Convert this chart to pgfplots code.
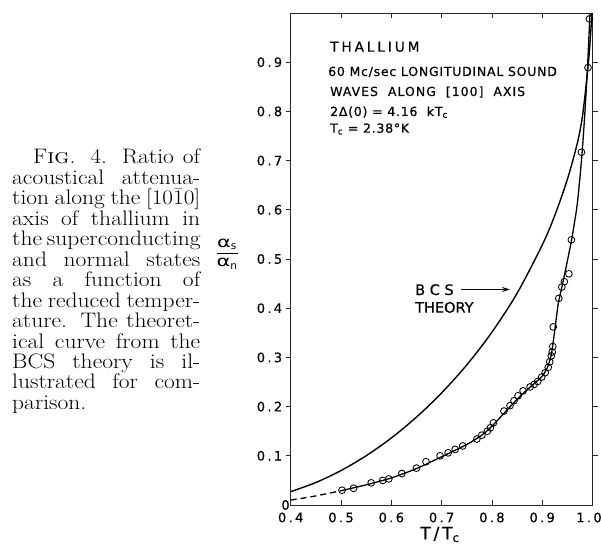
\documentclass[border=0pt]{standalone}
\usepackage{pgfplots}
\pgfplotsset{compat=1.18}
\usepackage{fontspec}
\usepackage{amsmath}
\usepackage{graphicx}
\usetikzlibrary{arrows.meta}
\newfontfamily\lfont{DejaVu Sans}
\newcommand\capline[2]{\scalebox{1.12}[1]{\makebox[#1][s]{#2}}}

\begin{document}
\begin{tikzpicture}[x=1pt,y=1pt]
\useasboundingbox (0,0) rectangle (601,552);
\begin{axis}[
  at={(290.7pt,47pt)}, anchor=south west,
  scale only axis, width=301.8pt, height=492pt,
  xmin=0.4, xmax=1.0, ymin=0, ymax=1.0,
  xtick={0.4,0.5,0.6,0.7,0.8,0.9,1.0},
  xticklabels={0.4,0.5,0.6,0.7,0.8,0.9,{\hspace*{-7pt}1.0}},
  ytick={0.1,0.2,0.3,0.4,0.5,0.6,0.7,0.8,0.9},
  yticklabels={0.1,0.2,0.3,0.4,0.5,0.6,0.7,0.8,0.9},
  extra y ticks={0}, extra y tick labels={0},
  extra y tick style={major tick length=0pt, yticklabel style={xshift=2.5pt, yshift=0pt}},
  xtick align=inside, ytick align=outside,
  major tick length=5pt,
  axis line style={line width=0.9pt, black!85},
  tick style={line width=0.8pt, black!85},
  ticklabel style={font={\fontsize{13}{15}\lfont\addfontfeature{LetterSpace=18,FakeBold=0.6}}},
  xticklabel style={yshift=-4pt},
]
% BCS theory
\addplot[black, line width=1.4pt, smooth, tension=0.5] coordinates {
(0.40,0.0271)(0.45,0.0457)(0.50,0.0700)(0.55,0.1001)(0.60,0.1362)(0.65,0.1786)
(0.70,0.2278)(0.75,0.2847)(0.80,0.3512)(0.85,0.4302)(0.90,0.5283)(0.925,0.5886)
(0.95,0.6618)(0.97,0.736)(0.98,0.790)(0.988,0.860)(0.994,0.925)(0.999,1.0)};
% experimental curve, dashed extrapolation
\addplot[black, line width=1.3pt, dash pattern=on 6pt off 4pt, smooth] coordinates {
(0.40,0.010)(0.45,0.0185)(0.50,0.029)};
% experimental curve, solid
\addplot[black, line width=1.3pt, smooth, tension=0.4] coordinates {
(0.50,0.029)(0.55,0.041)(0.60,0.055)(0.65,0.074)(0.70,0.098)(0.75,0.123)(0.78,0.142)
(0.80,0.160)(0.83,0.193)(0.86,0.225)(0.88,0.243)(0.90,0.262)(0.91,0.279)(0.918,0.305)
(0.925,0.355)(0.932,0.410)(0.940,0.447)(0.949,0.491)(0.959,0.542)(0.969,0.606)
(0.975,0.665)(0.980,0.725)(0.985,0.800)(0.990,0.889)(0.995,1.0)};
% measured points
\addplot[only marks, mark=o, mark size=3.4pt, mark options={line width=0.85pt, fill=white, draw=black}] coordinates {
(0.502,0.030)(0.525,0.034)(0.560,0.045)(0.583,0.050)(0.595,0.053)(0.621,0.064)
(0.650,0.075)(0.669,0.088)(0.697,0.100)(0.713,0.106)(0.727,0.113)(0.742,0.120)
(0.770,0.134)(0.780,0.142)(0.791,0.150)(0.797,0.157)(0.803,0.167)(0.824,0.191)
(0.836,0.202)(0.844,0.212)(0.852,0.222)(0.862,0.232)(0.876,0.240)(0.884,0.245)
(0.891,0.251)(0.899,0.260)(0.906,0.269)(0.912,0.280)(0.915,0.291)(0.918,0.303)
(0.920,0.311)(0.921,0.322)(0.922,0.362)(0.933,0.420)(0.939,0.443)(0.944,0.454)
(0.953,0.470)(0.958,0.539)(0.978,0.717)(0.991,0.889)(0.994,0.988)};
\end{axis}

% texts inside the plot
\node[anchor=base west, inner sep=0, font={\fontsize{13.7}{16}\lfont\addfontfeature{LetterSpace=21,FakeBold=0.5}}] at (330,500.3) {THALLIUM};
\node[anchor=base west, inner sep=0, font={\fontsize{12.5}{15}\lfont\addfontfeature{LetterSpace=6,FakeBold=0.5}}] at (328,476) {60 Mc/sec LONGITUDINAL SOUND};
\node[anchor=base west, inner sep=0, font={\fontsize{12.5}{15}\lfont\addfontfeature{LetterSpace=8,FakeBold=0.5}}] at (330,456) {WAVES\ \ ALONG\ \ [100]\ \ AXIS};
\node[anchor=base west, inner sep=0, font={\fontsize{12.5}{15}\lfont\addfontfeature{LetterSpace=6,FakeBold=0.5}}] at (330,436) {2Δ(0) = 4.16\ \ kT\textsubscript{c}};
\node[anchor=base west, inner sep=0, font={\fontsize{12.5}{15}\lfont\addfontfeature{LetterSpace=6,FakeBold=0.5}}] at (330,419.3) {T\textsubscript{c}\ = 2.38°K};
\node[anchor=base west, inner sep=0, font={\fontsize{14.5}{16}\lfont\addfontfeature{FakeBold=0.5}}] at (415,257) {B C S};
\node[anchor=base west, inner sep=0, font={\fontsize{14.5}{16}\lfont\addfontfeature{FakeBold=0.5}}] at (415,239.3) {THEORY};
\draw[-{Stealth[length=8pt,width=5pt]}, line width=1.1pt] (461,262.5) -- (510,262.5);

% axis titles
\node[anchor=base, inner sep=0, font={\fontsize{17}{19}\lfont\addfontfeature{FakeBold=0.5}}] at (440,12.7) {T\,/\,T\textsubscript{c}};
\node[inner sep=0, font={\fontsize{15}{17}\lfont}] at (227,298) {$\genfrac{}{}{0.8pt}{0}{\mbox{\scalebox{1.4}[1]{α}\textsubscript{s}}}{\mbox{\scalebox{1.4}[1]{α}\textsubscript{n}}}$};

% caption
\begin{scope}[every node/.style={anchor=base west, inner sep=0, font={\fontsize{21}{20.4}\selectfont}}]
\node at (33,388) {\capline{149.1pt}{F\textsc{ig}. 4. Ratio of}};
\node at (12,367.55) {\capline{167.9pt}{acoustical attenua-}};
\node at (12,347.1) {\capline{167.9pt}{tion along the \smash{$[10\bar{1}0]$}}};
\node at (12,326.65) {\capline{167.9pt}{axis of thallium in}};
\node at (12,306.2) {\capline{167.9pt}{the superconducting}};
\node at (12,285.75) {\capline{167.9pt}{and normal states}};
\node at (12,265.3) {\capline{167.9pt}{as a function of}};
\node at (12,244.85) {\capline{167.9pt}{the reduced temper-}};
\node at (12,224.4) {\capline{167.9pt}{ature. The theoret-}};
\node at (12,203.95) {\capline{167.9pt}{ical curve from the}};
\node at (12,183.5) {\capline{167.9pt}{BCS theory is il-}};
\node at (12,163.05) {\capline{167.9pt}{lustrated for com-}};
\node at (12,142.6) {\scalebox{1.12}[1]{parison.}};
\end{scope}
\end{tikzpicture}
\end{document}
